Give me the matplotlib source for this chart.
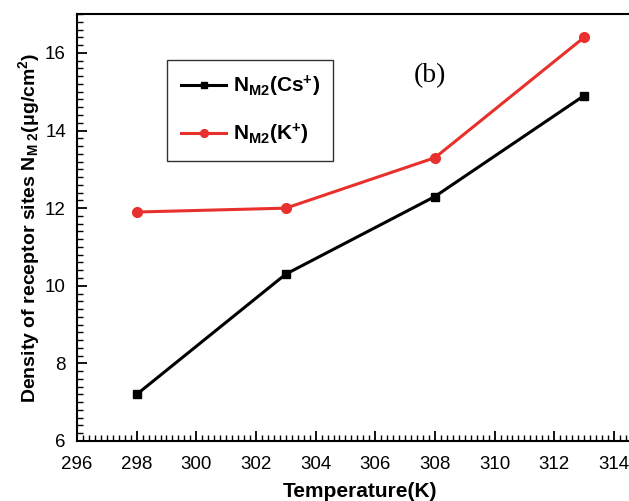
import numpy as np
import matplotlib.pyplot as plt
from matplotlib.ticker import MultipleLocator

# data
temperature = [298, 303, 308, 313]
nm2_cs = [7.2, 10.3, 12.3, 14.9]
nm2_k = [11.9, 12.0, 13.3, 16.4]

plt.rcParams['font.family'] = 'Liberation Sans'
plt.rcParams['mathtext.fontset'] = 'custom'
plt.rcParams['mathtext.rm'] = 'Liberation Sans:bold'
plt.rcParams['mathtext.it'] = 'Liberation Sans:bold'
plt.rcParams['mathtext.bf'] = 'Liberation Sans:bold'
plt.rcParams['mathtext.default'] = 'rm'

fig = plt.figure(figsize=(6.29, 5.01), dpi=100)
ax = fig.add_axes([0.1224, 0.1198, 0.901, 0.852])

ax.plot(temperature, nm2_cs, color='black', lw=2.2, marker='s', ms=6,
        label=r'N$_{M2}$(Cs$^{+}$)')
ax.plot(temperature, nm2_k, color='#e8302c', lw=2.2, marker='o', ms=7,
        label=r'N$_{M2}$(K$^{+}$)')

ax.set_xlim(296, 315)
ax.set_ylim(6, 17)
ax.xaxis.set_major_locator(MultipleLocator(2))
ax.xaxis.set_minor_locator(MultipleLocator(0.2))
ax.yaxis.set_major_locator(MultipleLocator(2))
ax.yaxis.set_minor_locator(MultipleLocator(0.2))
ax.tick_params(which='major', direction='in', length=7, width=1.3, labelsize=13.5)
ax.tick_params(axis='x', which='major', pad=11)
ax.tick_params(axis='y', which='major', pad=8)
ax.tick_params(which='minor', direction='in', length=4, width=1.0)
for s in ax.spines.values():
    s.set_linewidth(1.5)

ax.set_xlabel('Temperature(K)', fontsize=15, fontweight='bold', labelpad=6)
ax.set_ylabel(r'Density of receptor sites N$_{M\ 2}$($\mu$g/cm$^{2}$)',
              fontsize=14, fontweight='bold', labelpad=2)

leg = ax.legend(loc='upper left', bbox_to_anchor=(0.159, 0.892),
                borderaxespad=0,
                prop={'family': 'Liberation Sans', 'weight': 'bold', 'size': 15},
                frameon=True, fancybox=False, edgecolor='black',
                handlelength=2.2, handletextpad=0.3, markerscale=0.8,
                borderpad=0.65, labelspacing=1.1)
leg.get_frame().set_linewidth(1.0)

ax.text(0.623, 0.857, '(b)', transform=ax.transAxes, fontsize=20,
        family='Liberation Serif', ha='center', va='center')

fig.savefig('out.png', dpi=100)
